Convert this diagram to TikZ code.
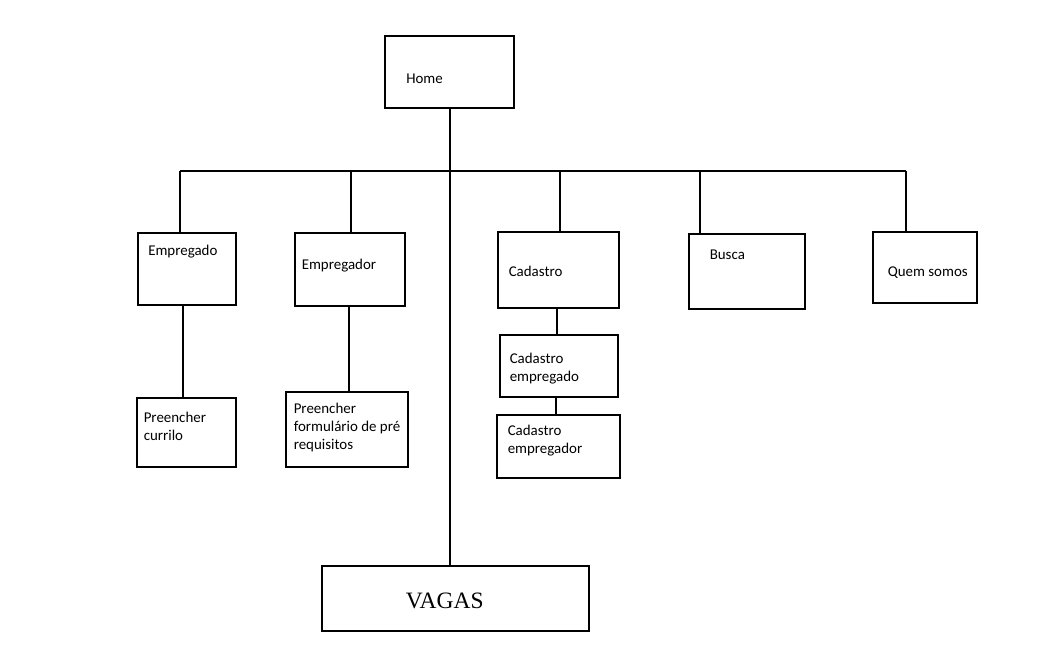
\documentclass[tikz,border=0pt]{standalone}
\usepackage{fontspec}
\setmainfont{Carlito}
\newfontfamily\vagasfont{Liberation Serif}
\usetikzlibrary{fit,positioning}

\begin{document}
\begin{tikzpicture}[x=0.75pt,y=-0.75pt,
  box/.style={draw,line width=0.8pt,inner sep=0pt},
  txt/.style={anchor=base west,inner sep=0pt,align=left,font=\fontsize{11.2}{13.5}\selectfont},
  line/.style={line width=0.8pt}]

\useasboundingbox (0,0) rectangle (1047,666);

%home
\node[box,fit={(385,36) (514,108)}] (home) {};
\node[txt] at (406,84) {Home};
%vagas
\node[box,fit={(322,566) (589,631)}] (vagas) {};
\node[anchor=base west,inner sep=0pt,font=\vagasfont\fontsize{17.6}{22}\selectfont] at (405.5,609) {VAGAS};

%first level
\node[box,fit={(138,233) (236,305)}] (empregado) {};
\node[txt] at (148,256) {Empregado};
\node[box,fit={(295,233) (405,306)}] (empregador) {};
\node[txt] at (301.5,270) {Empregador};
\node[box,fit={(498,232) (619,308)}] (cadastro) {};
\node[txt] at (508.5,277) {Cadastro};
\node[box,fit={(689,234) (805,309)}] (busca) {};
\node[txt] at (709.5,260) {Busca};
\node[box,fit={(873,232) (977,303)}] (quem) {};
\node[txt] at (887.5,276.5) {Quem somos};

%second level (base = last line)
\node[box,fit={(137,398) (236,467)}] (curriculo) {};
\node[txt] at (143.5,441) {Preencher\\currilo};
\node[box,fit={(286,392) (408,467)}] (formulario) {};
\node[txt] at (293.5,450) {Preencher\\formulário de pré\\requisitos};
\node[box,fit={(500,335) (618,397)}] (cadempregado) {};
\node[txt] at (509.5,382) {Cadastro\\empregado};
\node[box,fit={(497,415) (620,478)}] (cadempregador) {};
\node[txt] at (507.5,454) {Cadastro\\empregador};

%bus
\coordinate (b1) at (180,171);
\coordinate (b2) at (351,171);
\coordinate (b3) at (560,171);
\coordinate (b4) at (700,171);
\coordinate (b5) at (906,171);
\coordinate (t0) at (450,171);
\draw[line] (b1) -- (b5);
\draw[line] (b1) -- (b1 |- empregado.north);
\draw[line] (b2) -- (b2 |- empregador.north);
\draw[line] (b3) -- (b3 |- cadastro.north);
\draw[line] (b4) -- (b4 |- busca.north);
\draw[line] (b5) -- (b5 |- quem.north);
%trunk home->vagas
\draw[line] (t0 |- home.south) -- (t0 |- vagas.north);

%links to second level
\coordinate (c1) at (183,0);
\coordinate (c2) at (349,0);
\coordinate (c3) at (557,0);
\coordinate (c4) at (556,0);
\draw[line] (c1 |- empregado.south) -- (c1 |- curriculo.north);
\draw[line] (c2 |- empregador.south) -- (c2 |- formulario.north);
\draw[line] (c3 |- cadastro.south) -- (c3 |- cadempregado.north);
\draw[line] (c4 |- cadempregado.south) -- (c4 |- cadempregador.north);

\end{tikzpicture}
\end{document}
